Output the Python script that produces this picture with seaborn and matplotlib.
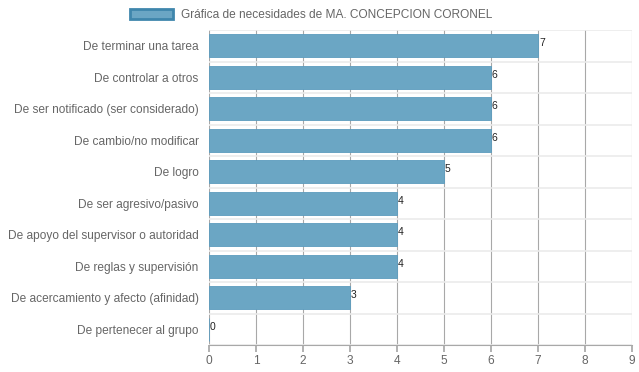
import numpy as np
import pandas as pd
import matplotlib
matplotlib.use("Agg")
import matplotlib.pyplot as plt
import seaborn as sns
from matplotlib.patches import Patch

# Datos del gráfico
categorias = [
    "De terminar una tarea",
    "De controlar a otros",
    "De ser notificado (ser considerado)",
    "De cambio/no modificar",
    "De logro",
    "De ser agresivo/pasivo",
    "De apoyo del supervisor o autoridad",
    "De reglas y supervisión",
    "De acercamiento y afecto (afinidad)",
    "De pertenecer al grupo",
]
valores = [7, 6, 6, 6, 5, 4, 4, 4, 3, 0]
titulo_leyenda = "Gráfica de necesidades de MA. CONCEPCION CORONEL"

df = pd.DataFrame({"categoria": categorias, "valor": valores})

sns.set_theme(style="white")
plt.rcParams["font.family"] = ["Liberation Sans", "DejaVu Sans"]

fig = plt.figure(figsize=(6.39, 3.72), dpi=100)
ax = fig.add_axes([209 / 639, 1 - 345 / 372, 423 / 639, 315 / 372])

color_barra = "#6ba6c4"
color_borde = "#5c9cbe"
sns.barplot(data=df, x="valor", y="categoria", orient="h", color=color_barra,
            width=0.73, saturation=1, edgecolor=color_borde, linewidth=0.6,
            ax=ax, zorder=3)

ax.set_xlim(0, 9)
ax.set_ylim(len(categorias) - 0.5, -0.5)
ax.set_xticks(range(0, 10))
ax.set_xlabel("")
ax.set_ylabel("")

# rejilla
ax.set_yticks(np.arange(-0.5, len(categorias), 1), minor=True)
ax.grid(axis="x", which="major", color="#a8a8a8", linewidth=0.8, zorder=0)
ax.grid(axis="y", which="minor", color="#ebebeb", linewidth=1.2, zorder=0)
ax.tick_params(axis="y", which="minor", length=0)

for lado in ["top", "right", "left"]:
    ax.spines[lado].set_visible(False)
ax.spines["bottom"].set_color("#a8a8a8")
ax.spines["bottom"].set_linewidth(0.8)

ax.tick_params(axis="x", which="major", length=5, color="#a8a8a8",
               labelsize=8.6, labelcolor="#666666", pad=2, bottom=True)
ax.tick_params(axis="y", which="major", length=0, labelsize=8.6,
               labelcolor="#666666", pad=7.5)

# etiquetas de valor
for i, v in enumerate(valores):
    ax.text(v + 0.02, i - 0.08, str(v), ha="left", va="center",
            fontsize=7.5, color="#222222", zorder=4)

# leyenda
handle = Patch(facecolor=color_barra, edgecolor="#3f86ac", linewidth=2)
fig.legend(handles=[handle], labels=[titulo_leyenda], loc="upper center",
           bbox_to_anchor=(0.487, 1.006), frameon=False, fontsize=8.6,
           labelcolor="#666666", handlelength=3.6, handleheight=1.0,
           handletextpad=0.6)

fig.savefig("out.png", dpi=100)
